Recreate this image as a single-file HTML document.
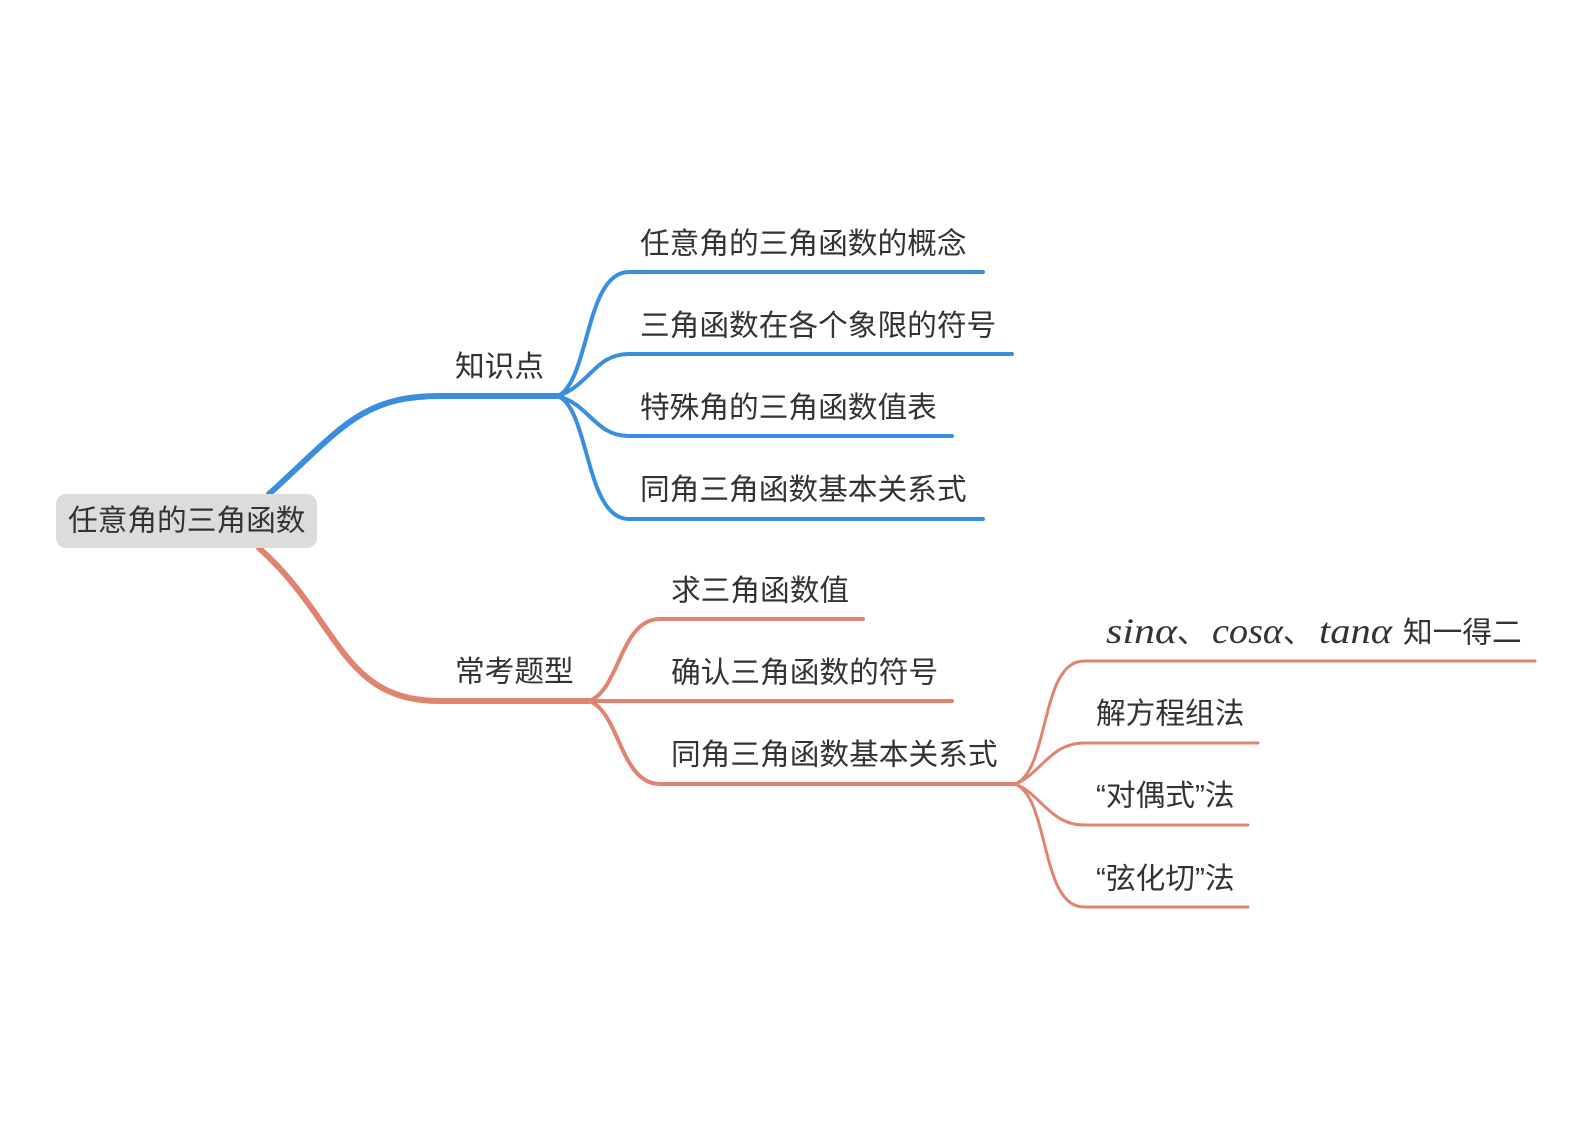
<!DOCTYPE html>
<html><head><meta charset="utf-8"><style>
html,body{margin:0;padding:0;background:#fff;}
svg{display:block}
text{font-family:"Liberation Sans","Noto Sans CJK SC",sans-serif;font-size:29.7px;fill:#333;dominant-baseline:central}
.m{font-family:"Liberation Serif","Noto Serif CJK SC",serif;font-style:italic;font-size:36px}
</style></head><body>
<svg width="1590" height="1124" viewBox="0 0 1590 1124" xmlns="http://www.w3.org/2000/svg">
<g fill="none" stroke-linecap="round">
<path d="M269,494 C340,430 360,396 440,396 L558,396" stroke="#3a8ee0" stroke-width="6"/>
<g stroke="#3a8ee0" stroke-width="4">
<path d="M558,396 C590,380 585,272 629,272 L983,272"/>
<path d="M558,396 C590,385 595,354 629,354 L1012,354"/>
<path d="M558,396 C590,405 595,436 629,436 L952,436"/>
<path d="M558,396 C590,410 585,519 629,519 L983,519"/>
</g>
<path d="M259,548 C340,620 340,701 440,701 L589,701" stroke="#e08470" stroke-width="6"/>
<g stroke="#e08470" stroke-width="4">
<path d="M589,701 C620,690 620,619 660,619 L863,619"/>
<path d="M589,701 L952,701"/>
<path d="M589,701 C620,712 620,784 660,784 L1015,784"/>
</g>
<g stroke="#e08470" stroke-width="3">
<path d="M1015,784 C1050,770 1040,661 1084,661 L1535,661"/>
<path d="M1015,784 C1040,775 1050,743 1084,743 L1258,743"/>
<path d="M1015,784 C1040,793 1050,825 1084,825 L1248,825"/>
<path d="M1015,784 C1050,798 1040,907 1084,907 L1248,907"/>
</g>
</g>
<rect x="56" y="494" width="261" height="54" rx="10" fill="#dcdcdc"/>
<text x="68" y="521">任意角的三角函数</text>
<text x="455" y="367">知识点</text>
<text x="640" y="244">任意角的三角函数的概念</text>
<text x="640" y="326">三角函数在各个象限的符号</text>
<text x="640" y="408">特殊角的三角函数值表</text>
<text x="640" y="490">同角三角函数基本关系式</text>
<text x="455" y="672">常考题型</text>
<text x="671" y="591">求三角函数值</text>
<text x="671" y="673">确认三角函数的符号</text>
<text x="671" y="755">同角三角函数基本关系式</text>
<text class="m" x="1106" y="631" textLength="71" lengthAdjust="spacingAndGlyphs">sinα</text>
<text x="1177" y="633">、</text>
<text class="m" x="1212" y="631" textLength="71" lengthAdjust="spacingAndGlyphs">cosα</text>
<text x="1283" y="633">、</text>
<text class="m" x="1319" y="631" textLength="73" lengthAdjust="spacingAndGlyphs">tanα</text>
<text x="1403" y="633">知一得二</text>
<text x="1096" y="714">解方程组法</text>
<text x="1096" y="796">“对偶式”法</text>
<text x="1096" y="879">“弦化切”法</text>
</svg>
</body></html>
